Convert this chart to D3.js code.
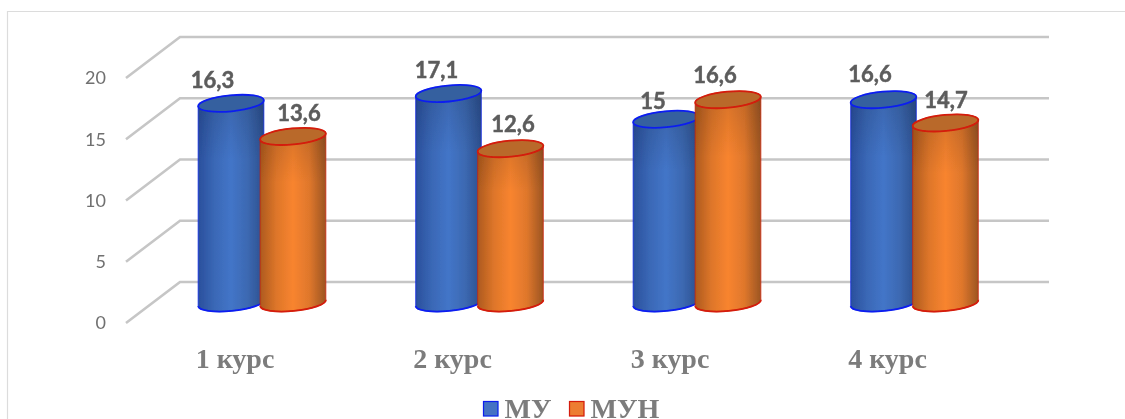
<!DOCTYPE html>
<html>
<head>
<meta charset="utf-8">
<script src="https://cdn.jsdelivr.net/npm/d3@7"></script>
<style>
  html, body { margin: 0; padding: 0; background: #fff; }
  svg { display: block; }
</style>
</head>
<body>
<script>
// Chart data
var categories = ["1 курс", "2 курс", "3 курс", "4 курс"];
var seriesNames = ["МУ", "МУН"];
var valuesMU = [16.3, 17.1, 15, 16.6];
var valuesMUN = [13.6, 12.6, 16.6, 14.7];
var yTicks = [0, 5, 10, 15, 20];

// Hand placed data labels, relative to the top of each bar
var labelDxMU = [-18.5, -12, -13, -13.5];
var labelDyMU = [-15, -15.5, -10, -18];
var labelDxMUN = [6, 2.5, -13, 0.5];
var labelDyMUN = [-15, -17, -17, -15];

var width = 1125,
    height = 419;

var svg = d3.select("body").append("svg")
    .attr("width", width)
    .attr("height", height);

// y is the front edge of the floor, the back wall and the bars are shifted up from it
var y = d3.scaleLinear().domain([0, 20]).range([323, 78]);
var backDx = 54, backDy = -41;
var barDy = -20;

var x0 = d3.scaleBand().domain(categories).range([153.25, 1023.25]);
var x1 = d3.scaleBand().domain(seriesNames).range([-62, 62]);
var rx = 33, ry = 8, tilt = -5.5;

var colors = {
  "МУ": { stroke: "#0a1ff0", top: "#35619f", legend: "#4472c4", stops: ["#2a4f9c", "#3a68b6", "#4375c8", "#3c69b2", "#2c4f8e"] },
  "МУН": { stroke: "#d41a08", top: "#b9692c", legend: "#ed7d31", stops: ["#ad5a1e", "#de762a", "#f8842f", "#df772c", "#9c5522"] }
};

var defs = svg.append("defs");
defs.append("filter").attr("id", "soft")
    .append("feGaussianBlur").attr("stdDeviation", 0.55);

seriesNames.forEach(function(name, i) {
  var grad = defs.append("linearGradient").attr("id", "grad" + i);
  var stops = colors[name].stops;
  stops.forEach(function(c, k) {
    grad.append("stop")
        .attr("offset", k / (stops.length - 1))
        .attr("stop-color", c);
  });
});

// Darker upper part of the cylinders
var shade = defs.append("linearGradient").attr("id", "shade")
    .attr("x1", 0).attr("x2", 0).attr("y1", 0).attr("y2", 1);
shade.append("stop").attr("offset", 0).attr("stop-color", "#000").attr("stop-opacity", 0.14);
shade.append("stop").attr("offset", 0.3).attr("stop-color", "#000").attr("stop-opacity", 0);

// Outer frame
svg.append("path")
    .attr("d", "M7.5,419V11.5H1125")
    .attr("fill", "none")
    .attr("stroke", "#dcdcdc")
    .attr("stroke-width", 1.2);

var chart = svg.append("g").attr("filter", "url(#soft)");

// Grid: side wall diagonal + back wall line for every tick
chart.append("g").selectAll("path")
    .data(yTicks)
    .enter()
    .append("path")
    .attr("d", function(d) {
      var yy = y(d);
      return "M126," + yy + "L" + (126 + backDx) + "," + (yy + backDy) + "H1049";
    })
    .attr("fill", "none")
    .attr("stroke", "#c6c6c6")
    .attr("stroke-width", 2.6);

// Tick labels
chart.append("g").selectAll("text")
    .data(yTicks)
    .enter()
    .append("text")
    .attr("x", 106)
    .attr("y", function(d) { return y(d); })
    .attr("dy", "0.35em")
    .attr("text-anchor", "end")
    .attr("font-family", "Lato")
    .attr("font-size", 18)
    .attr("fill", "#707070")
    .text(function(d) { return d; });

// Cylinder outline, local coords around the top ellipse
function cylinderPath(h) {
  var t = tilt * Math.PI / 180;
  var dx = rx * Math.cos(t), dy = rx * Math.sin(t);
  return "M" + (-dx) + "," + (-dy) +
    "A" + rx + "," + ry + "," + tilt + ",0,1," + dx + "," + dy +
    "V" + (dy + h) +
    "A" + rx + "," + ry + "," + tilt + ",0,1," + (-dx) + "," + (-dy + h) + "Z";
}

function bottomArc(h) {
  var t = tilt * Math.PI / 180;
  var dx = rx * Math.cos(t), dy = rx * Math.sin(t);
  return "M" + dx + "," + (dy + h) +
    "A" + rx + "," + ry + "," + tilt + ",0,1," + (-dx) + "," + (-dy + h);
}

function drawSeries(name, i, values) {
  var g = chart.append("g").selectAll("g")
      .data(values)
      .enter()
      .append("g")
      .attr("transform", function(d, k) {
        var cx = x0(categories[k]) + x0.bandwidth() / 2 + x1(name) + x1.bandwidth() / 2;
        return "translate(" + cx + "," + (y(d) + barDy) + ")";
      });

  g.append("path")
      .attr("d", function(d) { return cylinderPath(y(0) - y(d)); })
      .attr("fill", "url(#grad" + i + ")")
      .attr("stroke", colors[name].stroke)
      .attr("stroke-opacity", 0.6)
      .attr("stroke-width", 1.2);

  g.append("path")
      .attr("d", function(d) { return cylinderPath(y(0) - y(d)); })
      .attr("fill", "url(#shade)");

  g.append("path")
      .attr("d", function(d) { return bottomArc(y(0) - y(d)); })
      .attr("fill", "none")
      .attr("stroke", colors[name].stroke)
      .attr("stroke-width", 1.8);

  g.append("ellipse")
      .attr("rx", rx)
      .attr("ry", ry)
      .attr("transform", "rotate(" + tilt + ")")
      .attr("fill", colors[name].top)
      .attr("stroke", colors[name].stroke)
      .attr("stroke-width", 1.8);
}

// Labels go on top of both series so a bar never covers one
function drawLabels(name, values, labelDx, labelDy) {
  chart.append("g").selectAll("text")
      .data(values)
      .enter()
      .append("text")
      .attr("x", function(d, k) {
        return x0(categories[k]) + x0.bandwidth() / 2 + x1(name) + x1.bandwidth() / 2 + labelDx[k];
      })
      .attr("y", function(d, k) { return y(d) + barDy + labelDy[k]; })
      .attr("text-anchor", "middle")
      .attr("font-family", "Lato")
      .attr("font-weight", 700)
      .attr("font-size", 22)
      .attr("fill", "#5c5c5c")
      .attr("stroke", "#5c5c5c")
      .attr("stroke-width", 0.5)
      .text(function(d) { return String(d).replace(".", ","); });
}

// MU first so MUN overlaps it
drawSeries("МУ", 0, valuesMU);
drawSeries("МУН", 1, valuesMUN);
drawLabels("МУ", valuesMU, labelDxMU, labelDyMU);
drawLabels("МУН", valuesMUN, labelDxMUN, labelDyMUN);

// Category labels
chart.append("g").selectAll("text")
    .data(categories)
    .enter()
    .append("text")
    .attr("x", function(d) { return x0(d) + x0.bandwidth() / 2 - 27; })
    .attr("y", 368)
    .attr("font-family", "Liberation Serif")
    .attr("font-weight", 700)
    .attr("font-size", 28)
    .attr("fill", "#7c7c7c")
    .attr("text-anchor", "middle")
    .text(function(d) { return d; });

// Legend
var legendX = [483.5, 569.5];
var legend = chart.append("g").selectAll("g")
    .data(seriesNames)
    .enter()
    .append("g")
    .attr("transform", function(d, i) { return "translate(" + legendX[i] + ",401.5)"; });

legend.append("rect")
    .attr("width", 14.5)
    .attr("height", 14.5)
    .attr("fill", function(d) { return colors[d].legend; })
    .attr("stroke", function(d) { return colors[d].stroke; })
    .attr("stroke-width", 1.2);

legend.append("text")
    .attr("x", 21)
    .attr("y", 16)
    .attr("font-family", "Liberation Serif")
    .attr("font-weight", 700)
    .attr("font-size", 28)
    .attr("fill", "#7c7c7c")
    .text(function(d) { return d; });
</script>
</body>
</html>
